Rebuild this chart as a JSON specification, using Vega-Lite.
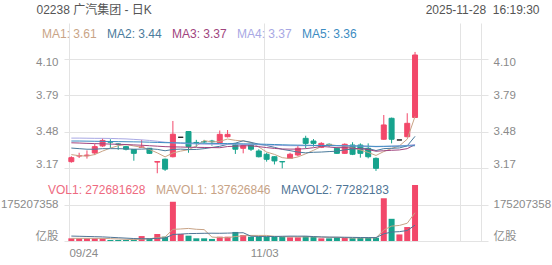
{
  "$schema": "https://vega.github.io/schema/vega-lite/v6.json",
  "width": 424,
  "height": 218,
  "autosize": {"type": "none"},
  "padding": {"left": 64, "top": 23, "right": 64, "bottom": 24},
  "background": "white",
  "config": {
    "font": "Liberation Sans, Noto Sans CJK SC, sans-serif",
    "view": {"stroke": null},
    "axis": {
      "labelFont": "Liberation Sans, Noto Sans CJK SC, sans-serif",
      "labelFontSize": 11.5,
      "labelColor": "#8a8a8a",
      "gridColor": "#e3e3e3",
      "gridWidth": 1,
      "domain": false,
      "ticks": false
    },
    "legend": {
      "labelFont": "Liberation Sans, Noto Sans CJK SC, sans-serif",
      "labelFontSize": 12,
      "labelLimit": 400
    }
  },
  "datasets": {
    "k": [
      {"i":0,"date":"09/24","open":3.224,"high":3.27,"low":3.215,"close":3.258,"vol":13000000,"ma1":3.284,"ma2":3.34,"ma3":3.385,"ma4":3.425,"ma5":3.40,"mavol1":13000000,"mavol2":24000000},
      {"i":1,"date":"09/25","open":3.272,"high":3.30,"low":3.255,"close":3.275,"vol":13000000,"ma1":3.275,"ma2":3.335,"ma3":3.383,"ma4":3.425,"ma5":3.40,"mavol1":13000000,"mavol2":23000000},
      {"i":2,"date":"09/26","open":3.275,"high":3.32,"low":3.25,"close":3.28,"vol":13000000,"ma1":3.271,"ma2":3.33,"ma3":3.38,"ma4":3.424,"ma5":3.399,"mavol1":13000000,"mavol2":22000000},
      {"i":3,"date":"09/29","open":3.298,"high":3.375,"low":3.28,"close":3.352,"vol":13000000,"ma1":3.285,"ma2":3.33,"ma3":3.378,"ma4":3.423,"ma5":3.398,"mavol1":13000000,"mavol2":21000000},
      {"i":4,"date":"09/30","open":3.358,"high":3.423,"low":3.35,"close":3.405,"vol":13000000,"ma1":3.314,"ma2":3.335,"ma3":3.376,"ma4":3.423,"ma5":3.397,"mavol1":13000000,"mavol2":20000000},
      {"i":5,"date":"10/02","open":3.395,"high":3.415,"low":3.34,"close":3.39,"vol":5000000,"ma1":3.34,"ma2":3.335,"ma3":3.374,"ma4":3.422,"ma5":3.396,"mavol1":11400000,"mavol2":18000000},
      {"i":6,"date":"10/03","open":3.375,"high":3.38,"low":3.325,"close":3.372,"vol":5000000,"ma1":3.36,"ma2":3.335,"ma3":3.372,"ma4":3.42,"ma5":3.395,"mavol1":9800000,"mavol2":16000000},
      {"i":7,"date":"10/06","open":3.352,"high":3.36,"low":3.32,"close":3.33,"vol":5000000,"ma1":3.37,"ma2":3.333,"ma3":3.37,"ma4":3.418,"ma5":3.394,"mavol1":8200000,"mavol2":14000000},
      {"i":8,"date":"10/08","open":3.328,"high":3.33,"low":3.232,"close":3.295,"vol":6000000,"ma1":3.358,"ma2":3.33,"ma3":3.367,"ma4":3.414,"ma5":3.393,"mavol1":6800000,"mavol2":12000000},
      {"i":9,"date":"10/09","open":3.345,"high":3.41,"low":3.34,"close":3.35,"vol":24000000,"ma1":3.347,"ma2":3.331,"ma3":3.364,"ma4":3.41,"ma5":3.392,"mavol1":9000000,"mavol2":11000000},
      {"i":10,"date":"10/10","open":3.338,"high":3.34,"low":3.29,"close":3.295,"vol":13000000,"ma1":3.328,"ma2":3.334,"ma3":3.36,"ma4":3.405,"ma5":3.39,"mavol1":10600000,"mavol2":11000000},
      {"i":11,"date":"10/13","open":3.22,"high":3.225,"low":3.125,"close":3.225,"vol":34000000,"ma1":3.299,"ma2":3.329,"ma3":3.356,"ma4":3.398,"ma5":3.388,"mavol1":16400000,"mavol2":13100000},
      {"i":12,"date":"10/14","open":3.245,"high":3.25,"low":3.145,"close":3.16,"vol":21000000,"ma1":3.265,"ma2":3.317,"ma3":3.352,"ma4":3.39,"ma5":3.386,"mavol1":19600000,"mavol2":13900000},
      {"i":13,"date":"10/15","open":3.266,"high":3.571,"low":3.26,"close":3.458,"vol":191000000,"ma1":3.298,"ma2":3.328,"ma3":3.35,"ma4":3.385,"ma5":3.385,"mavol1":56600000,"mavol2":31700000},
      {"i":14,"date":"10/16","open":3.432,"high":3.432,"low":3.432,"close":3.432,"vol":34000000,"ma1":3.314,"ma2":3.331,"ma3":3.349,"ma4":3.38,"ma5":3.384,"mavol1":58600000,"mavol2":33800000},
      {"i":15,"date":"10/17","open":3.481,"high":3.485,"low":3.30,"close":3.353,"vol":26000000,"ma1":3.326,"ma2":3.327,"ma3":3.347,"ma4":3.377,"ma5":3.383,"mavol1":61200000,"mavol2":35900000},
      {"i":16,"date":"10/20","open":3.388,"high":3.41,"low":3.35,"close":3.385,"vol":13000000,"ma1":3.358,"ma2":3.328,"ma3":3.346,"ma4":3.375,"ma5":3.382,"mavol1":57000000,"mavol2":36700000},
      {"i":17,"date":"10/21","open":3.395,"high":3.41,"low":3.38,"close":3.393,"vol":13000000,"ma1":3.404,"ma2":3.335,"ma3":3.345,"ma4":3.373,"ma5":3.381,"mavol1":55400000,"mavol2":37500000},
      {"i":18,"date":"10/22","open":3.40,"high":3.41,"low":3.36,"close":3.395,"vol":10000000,"ma1":3.392,"ma2":3.345,"ma3":3.344,"ma4":3.372,"ma5":3.38,"mavol1":19200000,"mavol2":37900000},
      {"i":19,"date":"10/23","open":3.386,"high":3.49,"low":3.38,"close":3.457,"vol":21000000,"ma1":3.397,"ma2":3.355,"ma3":3.343,"ma4":3.372,"ma5":3.379,"mavol1":16600000,"mavol2":37600000},
      {"i":20,"date":"10/24","open":3.437,"high":3.494,"low":3.43,"close":3.457,"vol":21000000,"ma1":3.417,"ma2":3.372,"ma3":3.353,"ma4":3.373,"ma5":3.378,"mavol1":15600000,"mavol2":38400000},
      {"i":21,"date":"10/27","open":3.372,"high":3.38,"low":3.29,"close":3.33,"vol":44000000,"ma1":3.406,"ma2":3.382,"ma3":3.356,"ma4":3.372,"ma5":3.377,"mavol1":21800000,"mavol2":39400000},
      {"i":22,"date":"10/28","open":3.338,"high":3.372,"low":3.295,"close":3.36,"vol":29000000,"ma1":3.40,"ma2":3.402,"ma3":3.36,"ma4":3.371,"ma5":3.376,"mavol1":25000000,"mavol2":40200000},
      {"i":23,"date":"10/30","open":3.372,"high":3.375,"low":3.315,"close":3.33,"vol":21000000,"ma1":3.387,"ma2":3.389,"ma3":3.359,"ma4":3.37,"ma5":3.375,"mavol1":27200000,"mavol2":23200000},
      {"i":24,"date":"10/31","open":3.315,"high":3.33,"low":3.26,"close":3.266,"vol":21000000,"ma1":3.349,"ma2":3.373,"ma3":3.352,"ma4":3.368,"ma5":3.374,"mavol1":27200000,"mavol2":21900000},
      {"i":25,"date":"11/03","open":3.287,"high":3.30,"low":3.224,"close":3.244,"vol":21000000,"ma1":3.306,"ma2":3.362,"ma3":3.344,"ma4":3.366,"ma5":3.372,"mavol1":27200000,"mavol2":21400000},
      {"i":26,"date":"11/04","open":3.266,"high":3.27,"low":3.20,"close":3.23,"vol":21000000,"ma1":3.286,"ma2":3.346,"ma3":3.337,"ma4":3.364,"ma5":3.37,"mavol1":22600000,"mavol2":22200000},
      {"i":27,"date":"11/05","open":3.225,"high":3.228,"low":3.167,"close":3.222,"vol":21000000,"ma1":3.258,"ma2":3.329,"ma3":3.332,"ma4":3.362,"ma5":3.368,"mavol1":21000000,"mavol2":23000000},
      {"i":28,"date":"11/06","open":3.252,"high":3.30,"low":3.25,"close":3.287,"vol":18000000,"ma1":3.25,"ma2":3.318,"ma3":3.331,"ma4":3.36,"ma5":3.366,"mavol1":20400000,"mavol2":23800000},
      {"i":29,"date":"11/07","open":3.281,"high":3.36,"low":3.27,"close":3.338,"vol":18000000,"ma1":3.264,"ma2":3.306,"ma3":3.331,"ma4":3.36,"ma5":3.365,"mavol1":19800000,"mavol2":23500000},
      {"i":30,"date":"11/10","open":3.423,"high":3.445,"low":3.338,"close":3.38,"vol":24000000,"ma1":3.291,"ma2":3.299,"ma3":3.335,"ma4":3.36,"ma5":3.364,"mavol1":20400000,"mavol2":23800000},
      {"i":31,"date":"11/11","open":3.40,"high":3.417,"low":3.352,"close":3.38,"vol":21000000,"ma1":3.321,"ma2":3.304,"ma3":3.343,"ma4":3.361,"ma5":3.363,"mavol1":20400000,"mavol2":21500000},
      {"i":32,"date":"11/12","open":3.346,"high":3.39,"low":3.34,"close":3.38,"vol":13000000,"ma1":3.353,"ma2":3.306,"ma3":3.354,"ma4":3.362,"ma5":3.362,"mavol1":18800000,"mavol2":19900000},
      {"i":33,"date":"11/13","open":3.372,"high":3.38,"low":3.35,"close":3.37,"vol":13000000,"ma1":3.37,"ma2":3.31,"ma3":3.349,"ma4":3.362,"ma5":3.361,"mavol1":17800000,"mavol2":19100000},
      {"i":34,"date":"11/14","open":3.338,"high":3.345,"low":3.29,"close":3.295,"vol":18000000,"ma1":3.361,"ma2":3.313,"ma3":3.343,"ma4":3.361,"ma5":3.36,"mavol1":17800000,"mavol2":18800000},
      {"i":35,"date":"11/17","open":3.295,"high":3.38,"low":3.29,"close":3.372,"vol":16000000,"ma1":3.359,"ma2":3.325,"ma3":3.344,"ma4":3.36,"ma5":3.359,"mavol1":16200000,"mavol2":18300000},
      {"i":36,"date":"11/18","open":3.366,"high":3.39,"low":3.28,"close":3.287,"vol":14000000,"ma1":3.341,"ma2":3.331,"ma3":3.339,"ma4":3.359,"ma5":3.358,"mavol1":14800000,"mavol2":17600000},
      {"i":37,"date":"11/19","open":3.366,"high":3.38,"low":3.258,"close":3.295,"vol":15000000,"ma1":3.324,"ma2":3.338,"ma3":3.334,"ma4":3.357,"ma5":3.357,"mavol1":15200000,"mavol2":17000000},
      {"i":38,"date":"11/20","open":3.338,"high":3.38,"low":3.252,"close":3.266,"vol":15000000,"ma1":3.303,"ma2":3.336,"ma3":3.327,"ma4":3.355,"ma5":3.356,"mavol1":15600000,"mavol2":16700000},
      {"i":39,"date":"11/21","open":3.252,"high":3.26,"low":3.145,"close":3.167,"vol":16000000,"ma1":3.277,"ma2":3.319,"ma3":3.313,"ma4":3.351,"ma5":3.354,"mavol1":15200000,"mavol2":16500000},
      {"i":40,"date":"11/24","open":3.415,"high":3.622,"low":3.41,"close":3.537,"vol":208000000,"ma1":3.31,"ma2":3.335,"ma3":3.317,"ma4":3.353,"ma5":3.355,"mavol1":53600000,"mavol2":34900000},
      {"i":41,"date":"11/25","open":3.594,"high":3.60,"low":3.38,"close":3.415,"vol":108000000,"ma1":3.336,"ma2":3.338,"ma3":3.321,"ma4":3.356,"ma5":3.356,"mavol1":72400000,"mavol2":43600000},
      {"i":42,"date":"11/26","open":3.409,"high":3.409,"low":3.409,"close":3.409,"vol":32000000,"ma1":3.359,"ma2":3.341,"ma3":3.324,"ma4":3.358,"ma5":3.357,"mavol1":75800000,"mavol2":45500000},
      {"i":43,"date":"11/27","open":3.437,"high":3.637,"low":3.43,"close":3.551,"vol":68000000,"ma1":3.416,"ma2":3.359,"ma3":3.335,"ma4":3.363,"ma5":3.358,"mavol1":86400000,"mavol2":51000000},
      {"i":44,"date":"11/28","open":3.601,"high":4.16,"low":3.60,"close":4.134,"vol":272681628,"ma1":3.61,"ma2":3.44,"ma3":3.37,"ma4":3.37,"ma5":3.36,"mavol1":137626846,"mavol2":77282183}
    ]
  },
  "data": {"name": "k"},
  "encoding": {
    "x": {
      "field": "i",
      "type": "quantitative",
      "scale": {"domain": [-0.3, 52.7], "nice": false, "zero": false},
      "axis": {
        "values": [0, 25, 50, 52.7],
        "grid": true,
        "tickOffset": -2.4,
        "labelExpr": "datum.value == 0 ? '09/24' : datum.value == 25 ? '11/03' : ''",
        "labelFlush": false,
        "labelAlign": {"condition": {"test": "datum.value == 0", "value": "left"}, "value": "center"},
        "labelPadding": 6,
        "title": null
      }
    }
  },
  "layer": [
    {
      "mark": {"type": "bar", "orient": "vertical", "size": 6},
      "encoding": {
        "y": {
          "field": "vol",
          "type": "quantitative",
          "stack": null,
          "scale": {"domain": [0, 1060960000], "nice": false, "zero": true},
          "axis": {
            "orient": "left",
            "values": [0, 175207358],
            "grid": true,
            "labelPadding": 6,
            "labelExpr": "datum.value == 0 ? '亿股' : format(datum.value, 'd')",
            "labelBaseline": {"condition": {"test": "datum.value == 0", "value": "bottom"}, "value": "middle"},
            "title": null
          }
        },
        "color": {
          "condition": {"test": "datum.close >= datum.open", "value": "#f2486a"},
          "value": "#17a38d"
        }
      }
    },
    {
      "transform": [{"fold": ["mavol1", "mavol2"], "as": ["vkey", "vval"]}],
      "mark": {"type": "line", "strokeWidth": 1},
      "encoding": {
        "y": {
          "field": "vval",
          "type": "quantitative",
          "scale": {"domain": [0, 1060960000], "nice": false, "zero": true},
          "axis": {
            "orient": "right",
            "values": [0, 175207358],
            "grid": false,
            "labelPadding": 5,
            "labelExpr": "datum.value == 0 ? '亿股' : format(datum.value, 'd')",
            "labelBaseline": {"condition": {"test": "datum.value == 0", "value": "bottom"}, "value": "middle"},
            "title": "02238 广汽集团 - 日K",
            "titleAngle": 0,
            "titleX": -452,
            "titleY": -14,
            "titleAlign": "left",
            "titleBaseline": "middle",
            "titleFontSize": 12,
            "titleFontWeight": "normal",
            "titleColor": "#555555",
            "titleFont": "Liberation Sans, Noto Sans CJK SC, sans-serif"
          }
        },
        "stroke": {
          "field": "vkey",
          "type": "nominal",
          "scale": {"domain": ["vol1", "mavol1", "mavol2"], "range": ["#ee6a80", "#c8a386", "#4f7596"]},
          "legend": {
            "orient": "none",
            "legendX": -15,
            "legendY": 161,
            "direction": "horizontal",
            "title": null,
            "padding": 0,
            "symbolSize": 0,
            "symbolOpacity": 0,
            "symbolStrokeWidth": 0,
            "labelOffset": -13,
            "columnPadding": 10,
            "labelExpr": "datum.value == 'vol1' ? 'VOL1: 272681628' : datum.value == 'mavol1' ? 'MAVOL1: 137626846' : 'MAVOL2: 77282183'",
            "encoding": {
              "labels": {
                "fill": {
                  "condition": [
                    {"test": "datum.value == 'vol1'", "value": "#ee6a80"},
                    {"test": "datum.value == 'mavol1'", "value": "#c8a386"}
                  ],
                  "value": "#4f7596"
                }
              }
            }
          }
        }
      }
    },
    {
      "layer": [
        {
          "mark": {"type": "rule", "strokeWidth": 1},
          "encoding": {
            "y": {
              "field": "low",
              "type": "quantitative",
              "scale": {"domain": [2.547, 4.407], "nice": false, "zero": false},
              "axis": {
                "orient": "left",
                "values": [3.17, 3.48, 3.79, 4.10],
                "format": ".2f",
                "grid": true,
                "labelPadding": 6,
                "labelOffset": {"condition": [{"test": "datum.value > 4", "value": 4}, {"test": "datum.value < 3.2", "value": -3}], "value": 0},
                "title": null
              }
            },
            "y2": {"field": "high"},
            "color": {
              "condition": [
                {"test": "datum.close > datum.open", "value": "#f2486a"},
                {"test": "datum.close == datum.open", "value": "#222222"}
              ],
              "value": "#17a38d"
            }
          }
        },
        {
          "mark": {"type": "bar", "orient": "vertical", "size": 5, "strokeWidth": 1},
          "encoding": {
            "y": {
              "field": "open",
              "type": "quantitative",
              "scale": {"domain": [2.547, 4.407], "nice": false, "zero": false},
              "axis": {
                "orient": "left",
                "values": [3.17, 3.48, 3.79, 4.10],
                "format": ".2f",
                "grid": true,
                "labelPadding": 6,
                "labelOffset": {"condition": [{"test": "datum.value > 4", "value": 4}, {"test": "datum.value < 3.2", "value": -3}], "value": 0},
                "title": null
              }
            },
            "y2": {"field": "close"},
            "color": {
              "condition": [
                {"test": "datum.close > datum.open", "value": "#f2486a"},
                {"test": "datum.close == datum.open", "value": "#222222"}
              ],
              "value": "#17a38d"
            },
            "stroke": {
              "condition": [
                {"test": "datum.close > datum.open", "value": "#f2486a"},
                {"test": "datum.close == datum.open", "value": "#222222"}
              ],
              "value": "#17a38d"
            }
          }
        }
      ]
    },
    {
      "transform": [{"fold": ["ma1", "ma2", "ma3", "ma4", "ma5"], "as": ["key", "val"]}],
      "mark": {"type": "line", "strokeWidth": 1},
      "encoding": {
        "y": {
          "field": "val",
          "type": "quantitative",
          "scale": {"domain": [2.547, 4.407], "nice": false, "zero": false},
          "axis": {
            "orient": "right",
            "values": [3.17, 3.48, 3.79, 4.10],
            "format": ".2f",
            "grid": false,
            "labelPadding": 5,
            "labelOffset": {"condition": [{"test": "datum.value > 4", "value": 4}, {"test": "datum.value < 3.2", "value": -3}], "value": 0},
            "title": "2025-11-28\u00a0 16:19:30",
            "titleAngle": 0,
            "titleX": 51,
            "titleY": -14,
            "titleAlign": "right",
            "titleBaseline": "middle",
            "titleFontSize": 12,
            "titleFontWeight": "normal",
            "titleColor": "#555555",
            "titleFont": "Liberation Sans, Noto Sans CJK SC, sans-serif"
          }
        },
        "color": {
          "field": "key",
          "type": "nominal",
          "scale": {"domain": ["ma1", "ma2", "ma3", "ma4", "ma5"], "range": ["#c9a486", "#4b7b9c", "#a0447e", "#a8a8e4", "#3c8cc2"]},
          "legend": {
            "orient": "none",
            "legendX": -21,
            "legendY": 5,
            "direction": "horizontal",
            "title": null,
            "padding": 0,
            "symbolSize": 0,
            "symbolOpacity": 0,
            "symbolStrokeWidth": 0,
            "labelOffset": -13,
            "columnPadding": 10,
            "labelExpr": "datum.value == 'ma1' ? 'MA1: 3.61' : datum.value == 'ma2' ? 'MA2: 3.44' : datum.value == 'ma3' ? 'MA3: 3.37' : datum.value == 'ma4' ? 'MA4: 3.37' : 'MA5: 3.36'",
            "encoding": {
              "labels": {
                "fill": {
                  "condition": [
                    {"test": "datum.value == 'ma1'", "value": "#c9a486"},
                    {"test": "datum.value == 'ma2'", "value": "#4b7b9c"},
                    {"test": "datum.value == 'ma3'", "value": "#a0447e"},
                    {"test": "datum.value == 'ma4'", "value": "#a8a8e4"}
                  ],
                  "value": "#3c8cc2"
                }
              }
            }
          }
        }
      }
    }
  ],
  "resolve": {"scale": {"y": "independent"}, "axis": {"y": "independent"}}
}
